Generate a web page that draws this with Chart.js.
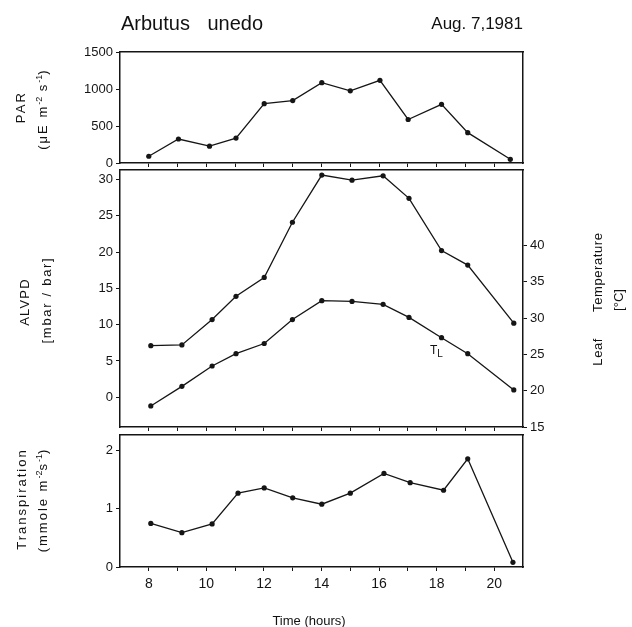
<!DOCTYPE html>
<html>
<head>
<meta charset="utf-8">
<script src="https://cdn.jsdelivr.net/npm/chart.js@4/dist/chart.umd.min.js"></script>
<style>
    body { margin: 0; background: #fff; }
    #wrap {
        position: relative; width: 632px; height: 627px; overflow: hidden;
        font-family: 'Liberation Sans', Arial, sans-serif; color: #111;
    }
    #wrap canvas { position: absolute; left: 0; top: 0; }
    .lbl { position: absolute; white-space: nowrap; line-height: 1; }
    .rot { transform: translate(-50%, -50%) rotate(-90deg); }
    .ax { font-size: 13px; }
    sup { font-size: 9px; vertical-align: 5px; letter-spacing: 0; }
</style>
</head>
<body>
<div id="wrap">
    <canvas id="parChart" width="632" height="627"></canvas>
    <canvas id="vpdChart" width="632" height="627"></canvas>
    <canvas id="transChart" width="632" height="627"></canvas>

    <div class="lbl" style="left:121px; top:13px; font-size:20px; word-spacing:12px;">Arbutus unedo</div>
    <div class="lbl" style="right:109px; top:15px; font-size:17px;">Aug. 7,1981</div>

    <div class="lbl rot ax" style="left:20px; top:107px; letter-spacing:2.2px;">PAR</div>
    <div class="lbl rot ax" style="left:42px; top:109px; letter-spacing:2px;">(μE m<sup>-2</sup> s<sup>-1</sup>)</div>

    <div class="lbl rot ax" style="left:24px; top:302px; letter-spacing:1.2px;">ALVPD</div>
    <div class="lbl rot ax" style="left:46px; top:300px; letter-spacing:1.7px;">[mbar / bar]</div>

    <div class="lbl rot ax" style="left:597px; top:299px; letter-spacing:0.6px;">Leaf<span style="display:inline-block; width:26px;"></span>Temperature</div>
    <div class="lbl rot ax" style="left:618px; top:300px;">[°C]</div>

    <div class="lbl rot ax" style="left:21px; top:499px; letter-spacing:2px;">Transpiration</div>
    <div class="lbl rot ax" style="left:42px; top:500px; letter-spacing:2px;">(mmole m<sup>-2</sup>s<sup>-1</sup>)</div>

    <div class="lbl" style="left:430px; top:344px; font-size:12px;">T<sub style="font-size:10px;">L</sub></div>

    <div class="lbl ax" style="left:309px; top:620px; transform:translate(-50%, -50%);">Time (hours)</div>
</div>

<script>
// values (time in hours)
const parTimes = [8.0, 9.03, 10.11, 11.03, 12.01, 13.0, 14.01, 15.0, 16.03, 17.01, 18.17, 19.08, 20.56];
const parValues = [91, 324, 228, 337, 802, 843, 1085, 976, 1117, 588, 793, 410, 50];

const vpdTimes = [8.07, 9.15, 10.2, 11.03, 12.01, 12.99, 14.01, 15.06, 16.14, 17.04, 18.17, 19.08, 20.68];
const vpdValues = [7.1, 7.2, 10.7, 13.9, 16.5, 24.1, 30.6, 29.9, 30.5, 27.4, 20.2, 18.2, 10.2];
const leafTempValues = [17.9, 20.6, 23.4, 25.1, 26.5, 29.8, 32.4, 32.3, 31.9, 30.1, 27.3, 25.1, 20.1];

const transTimes = [8.07, 9.15, 10.2, 11.1, 12.01, 13.0, 14.01, 15.0, 16.17, 17.08, 18.24, 19.08, 20.65];
const transValues = [0.75, 0.59, 0.74, 1.27, 1.36, 1.19, 1.08, 1.27, 1.61, 1.45, 1.32, 1.86, 0.08];

const hourTicks = [8, 9, 10, 11, 12, 13, 14, 15, 16, 17, 18, 19, 20];
const parTicks = [0, 500, 1000, 1500];
const vpdTicks = [0, 5, 10, 15, 20, 25, 30];
const leafTempTicks = [15, 20, 25, 30, 35, 40];
const transTicks = [0, 1, 2];

const ink = '#151515';
const tickFont = { family: "'Liberation Sans', Arial, sans-serif", size: 13 };

function pairs(xs, ys) {
    return xs.map((x, i) => ({ x: x, y: ys[i] }));
}

function lineSet(data, axis) {
    return {
        data: data,
        yAxisID: axis,
        borderColor: ink,
        borderWidth: 1.3,
        pointRadius: 2.6,
        pointBackgroundColor: ink,
        pointBorderWidth: 0,
        tension: 0,
        clip: false
    };
}

function fixedTicks(values) {
    return scale => { scale.ticks = values.map(v => ({ value: v })); };
}

const border = { color: ink, width: 1.5 };

function xAxis(showLabels, height) {
    return {
        type: 'linear', position: 'bottom', min: 7, max: 21,
        afterBuildTicks: fixedTicks(hourTicks),
        afterFit: s => { s.height = height; },
        ticks: {
            display: true, autoSkip: false, maxRotation: 0, padding: 5,
            color: ink, font: { family: tickFont.family, size: 14 },
            callback: v => (showLabels && v % 2 === 0) ? String(v) : ''
        },
        grid: { drawOnChartArea: false, drawTicks: true, tickLength: 4, color: ink },
        border: border
    };
}

// top edge of the frame
const xTop = {
    type: 'linear', position: 'top', min: 7, max: 21,
    afterFit: s => { s.height = 0; },
    ticks: { display: false },
    grid: { display: false, drawTicks: false },
    border: border
};

function yAxis(position, min, max, ticks, width) {
    return {
        type: 'linear', position: position, min: min, max: max,
        afterBuildTicks: ticks ? fixedTicks(ticks) : undefined,
        afterFit: s => { s.width = width; },
        ticks: { display: !!ticks, padding: 3, color: ink, font: tickFont, callback: v => String(v) },
        grid: { display: !!ticks, drawOnChartArea: false, drawTicks: !!ticks, tickLength: 4, color: ink },
        border: border
    };
}

function makeChart(id, datasets, scales, padTop, padBottom) {
    return new Chart(document.getElementById(id), {
        type: 'line',
        data: { datasets: datasets },
        options: {
            responsive: false,
            animation: false,
            layout: { padding: { top: padTop, bottom: padBottom, left: 0, right: 0 }, autoPadding: false },
            plugins: { legend: { display: false }, tooltip: { enabled: false } },
            scales: scales
        }
    });
}

// PAR panel
makeChart('parChart',
    [lineSet(pairs(parTimes, parValues), 'y')],
    {
        x: xAxis(false, 5),
        xt: xTop,
        y: yAxis('left', 0, 1500, parTicks, 120),
        yr: yAxis('right', 0, 1500, null, 109)
    },
    52, 627 - 163 - 5);

// ALVPD and leaf temperature panel
makeChart('vpdChart',
    [lineSet(pairs(vpdTimes, vpdValues), 'y'), lineSet(pairs(vpdTimes, leafTempValues), 'yr')],
    {
        x: xAxis(false, 5),
        xt: xTop,
        y: yAxis('left', -4.1, 31.3, vpdTicks, 120),
        yr: yAxis('right', 15, 50.4, leafTempTicks, 109)
    },
    170, 627 - 427 - 5);

// Transpiration panel
makeChart('transChart',
    [lineSet(pairs(transTimes, transValues), 'y')],
    {
        x: xAxis(true, 30),
        xt: xTop,
        y: yAxis('left', 0, 2.27, transTicks, 120),
        yr: yAxis('right', 0, 2.27, null, 109)
    },
    435, 627 - 567 - 30);
</script>
</body>
</html>
